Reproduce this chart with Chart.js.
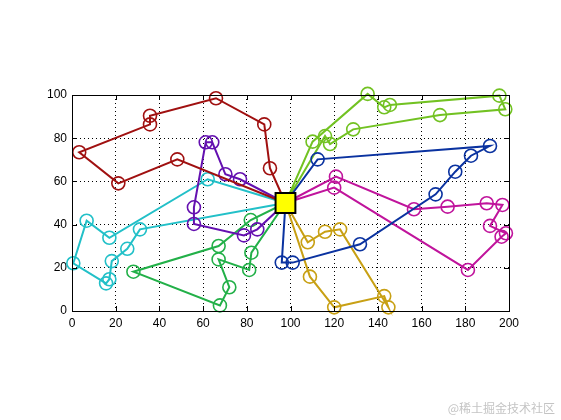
<!DOCTYPE html>
<html>
<head>
<meta charset="utf-8">
<script src="https://cdn.jsdelivr.net/npm/chart.js@4/dist/chart.umd.min.js"></script>
<style>
  html, body { margin: 0; padding: 0; background: #fff; }
  #wrap { width: 561px; height: 420px; }
</style>
</head>
<body>
<div id="wrap"><canvas id="routeChart" width="561" height="420"></canvas></div>
<script>
'use strict';

// axis ticks
const xTicks = [0, 20, 40, 60, 80, 100, 120, 140, 160, 180, 200];
const yTicks = [0, 20, 40, 60, 80, 100];

// depot
const depotX = 97.7;
const depotY = 50;

// customer points per route (visit order)
const route1X = [90.6, 88.0, 65.9, 35.7, 35.7, 3.3, 21.2, 48.2];
const route1Y = [66.1, 86.4, 98.5, 90.4, 86.4, 73.5, 59.1, 70.2];

const route2X = [76.9, 70.2, 64.2, 61.2, 55.8, 55.8, 78.7, 84.8];
const route2Y = [61.0, 63.3, 78.1, 78.1, 48.0, 40.3, 35.0, 37.8];

const route3X = [62.1, 17.1, 6.7, 0.6, 15.6, 17.1, 18.2, 25.3, 31.1];
const route3Y = [61.0, 33.9, 41.8, 22.1, 12.8, 14.7, 23.1, 28.8, 37.8];

const route4X = [81.8, 67.1, 28.1, 67.7, 72.0, 67.1, 81.1, 82.1];
const route4Y = [42.1, 30.1, 18.2, 2.6, 11.0, 23.9, 19.0, 27.0];

const route5X = [96.0, 101.0, 131.8, 166.4, 175.4, 182.6, 191.3, 112.4];
const route5Y = [22.4, 22.4, 30.9, 54.0, 64.5, 71.9, 76.4, 70.2];

const route6X = [120.8, 156.5, 171.9, 189.8, 197.0, 191.3, 198.6, 196.6, 181.2, 120.0];
const route6Y = [62.2, 47.1, 48.3, 49.9, 49.1, 39.4, 36.0, 34.4, 19.0, 57.1];

const route7X = [107.9, 115.8, 122.7, 144.8, 142.9, 120.0, 108.9];
const route7Y = [31.8, 36.7, 37.8, 1.7, 6.9, 1.7, 15.9];

const route8X = [110.1, 135.3, 142.9, 145.5, 195.6, 198.3, 168.4, 128.7, 118.1, 115.8];
const route8Y = [78.4, 100.5, 94.3, 95.4, 99.7, 93.4, 90.7, 84.1, 77.3, 81.0];

const routeColors = ['#a01010', '#6410b0', '#22c0c8', '#22b048', '#0a32a0', '#c0149c', '#c8a014', '#72c222'];

const routes = [
    [route1X, route1Y], [route2X, route2Y], [route3X, route3Y], [route4X, route4Y],
    [route5X, route5Y], [route6X, route6Y], [route7X, route7Y], [route8X, route8Y]
];

// build a closed tour through the depot
function buildTour(xs, ys) {
    const pts = [{ x: depotX, y: depotY }];
    for (let i = 0; i < xs.length; i++) {
        pts.push({ x: xs[i], y: ys[i] });
    }
    pts.push({ x: depotX, y: depotY });
    return pts;
}

const datasets = routes.map(function(r, i) {
    return {
        data: buildTour(r[0], r[1]),
        showLine: true,
        borderColor: routeColors[i],
        borderWidth: 2,
        pointRadius: function(ctx) {
            // no circle on the depot ends
            const n = ctx.dataset.data.length;
            return (ctx.dataIndex === 0 || ctx.dataIndex === n - 1) ? 0 : 6.5;
        },
        pointBorderColor: routeColors[i],
        pointBackgroundColor: 'rgba(255,255,255,0)',
        pointBorderWidth: 1.6,
        clip: false,
        order: 1
    };
});

datasets.push({
    data: [{ x: depotX, y: depotY }],
    pointStyle: 'rect',
    pointRadius: 14,
    pointBackgroundColor: '#ffff00',
    pointBorderColor: '#000',
    pointBorderWidth: 2,
    clip: false,
    order: -1
});

// box and inward tick marks, plus the small watermark
const framePlugin = {
    id: 'frame',
    afterDatasetsDraw: function(chart) {
        const ctx = chart.ctx;
        const a = chart.chartArea;
        const xs = chart.scales.x;
        const ys = chart.scales.y;
        ctx.save();
        ctx.strokeStyle = '#000';
        ctx.lineWidth = 1;
        ctx.beginPath();
        xTicks.forEach(function(v) {
            const px = Math.round(xs.getPixelForValue(v)) + 0.5;
            ctx.moveTo(px, a.bottom); ctx.lineTo(px, a.bottom - 5);
            ctx.moveTo(px, a.top); ctx.lineTo(px, a.top + 5);
        });
        yTicks.forEach(function(v) {
            const py = Math.round(ys.getPixelForValue(v)) + 0.5;
            ctx.moveTo(a.left, py); ctx.lineTo(a.left + 5, py);
            ctx.moveTo(a.right, py); ctx.lineTo(a.right - 5, py);
        });
        ctx.stroke();
        ctx.strokeRect(Math.round(a.left) + 0.5, Math.round(a.top) + 0.5,
            Math.round(a.right - a.left), Math.round(a.bottom - a.top));
        ctx.restore();
    },
    afterDraw: function(chart) {
        const ctx = chart.ctx;
        ctx.save();
        ctx.fillStyle = '#c4c4c4';
        ctx.font = '12px "Noto Sans CJK SC", sans-serif';
        ctx.textAlign = 'right';
        ctx.textBaseline = 'middle';
        ctx.fillText('@稀土掘金技术社区', 555, 408);
        ctx.restore();
    }
};

const tickFont = { family: '"Liberation Sans", Arial, sans-serif', size: 12 };

new Chart(document.getElementById('routeChart'), {
    type: 'scatter',
    data: { datasets: datasets },
    options: {
        responsive: false,
        animation: false,
        events: [],
        layout: { padding: { left: 0, right: 52, top: 95, bottom: 0 } },
        plugins: {
            legend: { display: false },
            tooltip: { enabled: false }
        },
        scales: {
            x: {
                type: 'linear',
                min: 0,
                max: 200,
                afterBuildTicks: function(scale) {
                    scale.ticks = xTicks.map(function(v) { return { value: v }; });
                },
                afterFit: function(scale) { scale.height = 109; },
                grid: { color: '#000', lineWidth: 1, drawTicks: false },
                border: { display: false, dash: [1, 3] },
                ticks: { color: '#000', font: tickFont, padding: 5, maxRotation: 0 }
            },
            y: {
                type: 'linear',
                min: 0,
                max: 100,
                afterBuildTicks: function(scale) {
                    scale.ticks = yTicks.map(function(v) { return { value: v }; });
                },
                afterFit: function(scale) { scale.width = 72; },
                grid: { color: '#000', lineWidth: 1, drawTicks: false },
                border: { display: false, dash: [1, 3] },
                ticks: { color: '#000', font: tickFont, padding: 5 }
            }
        }
    },
    plugins: [framePlugin]
});
</script>
</body>
</html>
